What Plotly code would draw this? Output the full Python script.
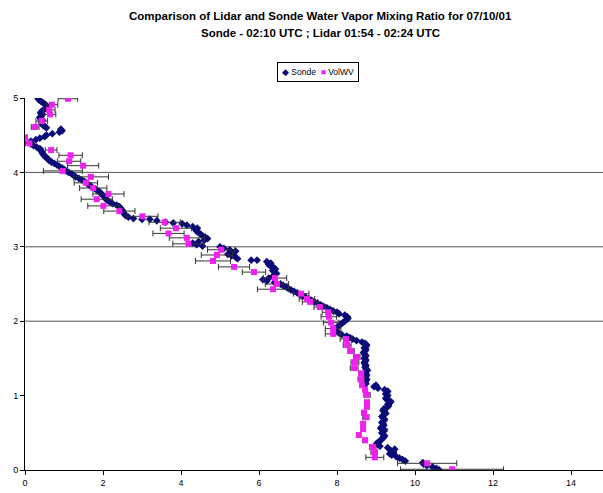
import plotly.graph_objects as go

# ---- Data ----
sonde_alt = [
    0.00, 0.02, 0.04, 0.06, 0.08, 0.10, 0.12, 0.14, 0.16, 0.18,
    0.20, 0.22, 0.24, 0.26, 0.28, 0.30, 0.32, 0.34, 0.36, 0.38,
    0.40, 0.42, 0.44, 0.46, 0.48, 0.50, 0.52, 0.54, 0.56, 0.58,
    0.60, 0.62, 0.64, 0.66, 0.68, 0.70, 0.72, 0.74, 0.76, 0.78,
    0.80, 0.82, 0.84, 0.86, 0.88, 0.90, 0.92, 0.94, 0.96, 0.98,
    1.00, 1.02, 1.04, 1.06, 1.08, 1.10, 1.12, 1.14, 1.16, 1.18,
    1.20, 1.22, 1.24, 1.26, 1.28, 1.30, 1.32, 1.34, 1.36, 1.38,
    1.40, 1.42, 1.44, 1.46, 1.48, 1.50, 1.52, 1.54, 1.56, 1.58,
    1.60, 1.62, 1.64, 1.66, 1.68, 1.70, 1.72, 1.74, 1.76, 1.78,
    1.80, 1.82, 1.84, 1.86, 1.88, 1.90, 1.92, 1.94, 1.96, 1.98,
    2.00, 2.02, 2.04, 2.06, 2.08, 2.10, 2.12, 2.14, 2.16, 2.18,
    2.20, 2.22, 2.24, 2.26, 2.28, 2.30, 2.32, 2.34, 2.36, 2.38,
    2.40, 2.42, 2.44, 2.46, 2.48, 2.50, 2.52, 2.54, 2.56, 2.58,
    2.60, 2.62, 2.64, 2.66, 2.68, 2.70, 2.72, 2.74, 2.76, 2.78,
    2.80, 2.82, 2.82, 2.84, 2.86, 2.88, 2.90, 2.92, 2.94, 2.96,
    2.98, 3.00, 3.01, 3.03, 3.05, 3.07, 3.09, 3.11, 3.13, 3.15,
    3.17, 3.19, 3.21, 3.23, 3.25, 3.27, 3.29, 3.31, 3.32, 3.33,
    3.35, 3.37, 3.37, 3.38, 3.40, 3.42, 3.44, 3.46, 3.48, 3.50,
    3.52, 3.54, 3.56, 3.58, 3.60, 3.62, 3.64, 3.66, 3.68, 3.70,
    3.72, 3.74, 3.76, 3.78, 3.80, 3.82, 3.84, 3.86, 3.88, 3.90,
    3.92, 3.94, 3.96, 3.98, 4.00, 4.02, 4.04, 4.06, 4.08, 4.10,
    4.12, 4.14, 4.16, 4.18, 4.20, 4.22, 4.24, 4.26, 4.28, 4.30,
    4.32, 4.34, 4.36, 4.38, 4.40, 4.42, 4.44, 4.46, 4.48, 4.50,
    4.52, 4.54, 4.56, 4.58, 4.60, 4.62, 4.64, 4.66, 4.68, 4.70,
    4.72, 4.74, 4.76, 4.78, 4.80, 4.82, 4.84, 4.86, 4.88, 4.90,
    4.92, 4.94, 4.96, 4.98, 5.00,
]
sonde_mr = [
    10.62, 10.55, 10.45, 10.30, 10.22, 10.20, 9.75, 9.68, 9.60, 9.52,
    9.40, 9.35, 9.45, 9.38, 9.48, 9.30, 9.10, 9.05, 9.02, 9.08,
    9.12, 9.15, 9.20, 9.22, 9.18, 9.15, 9.20, 9.22, 9.12, 9.15,
    9.20, 9.18, 9.15, 9.20, 9.22, 9.18, 9.15, 9.20, 9.25, 9.22,
    9.18, 9.20, 9.28, 9.32, 9.30, 9.35, 9.38, 9.30, 9.25, 9.28,
    9.30, 9.25, 9.28, 9.30, 9.22, 9.05, 8.95, 9.00, 8.74, 8.72,
    8.74, 8.76, 8.72, 8.74, 8.76, 8.72, 8.74, 8.78, 8.74, 8.72,
    8.74, 8.72, 8.70, 8.72, 8.74, 8.70, 8.72, 8.74, 8.70, 8.68,
    8.72, 8.74, 8.70, 8.74, 8.76, 8.72, 8.64, 8.50, 8.40, 8.33,
    8.25, 8.12, 8.05, 8.00, 7.96, 7.95, 8.00, 8.05, 8.10, 8.15,
    8.20, 8.25, 8.28, 8.26, 8.20, 8.05, 8.00, 7.90, 7.82, 7.74,
    7.65, 7.58, 7.50, 7.42, 7.35, 7.28, 7.20, 7.12, 7.05, 6.98,
    6.90, 6.82, 6.75, 6.70, 6.62, 6.55, 6.40, 6.20, 6.10, 6.25,
    6.35, 6.40, 6.45, 6.40, 6.35, 6.42, 6.38, 6.30, 6.25, 6.30,
    6.20, 5.95, 5.80, 5.45, 5.40, 5.30, 5.20, 5.35, 5.40, 5.25,
    5.10, 5.00, 4.55, 4.40, 4.30, 4.45, 4.60, 4.68, 4.62, 4.55,
    4.50, 4.45, 4.40, 4.38, 4.42, 4.30, 4.15, 4.03, 3.80, 3.60,
    3.38, 3.20, 3.00, 2.78, 2.65, 2.58, 2.55, 2.52, 2.50, 2.48,
    2.45, 2.42, 2.35, 2.25, 2.18, 2.12, 2.08, 2.05, 2.02, 1.98,
    1.95, 1.90, 1.85, 1.80, 1.72, 1.68, 1.62, 1.58, 1.52, 1.45,
    1.38, 1.30, 1.25, 1.20, 1.12, 1.05, 1.00, 0.95, 0.88, 0.82,
    0.75, 0.68, 0.62, 0.58, 0.55, 0.50, 0.47, 0.45, 0.42, 0.40,
    0.38, 0.30, 0.22, 0.16, 0.12, 0.15, 0.28, 0.38, 0.50, 0.55,
    0.70, 0.88, 0.95, 0.92, 0.55, 0.50, 0.45, 0.43, 0.42, 0.45,
    0.40, 0.38, 0.42, 0.45, 0.40, 0.42, 0.48, 0.52, 0.58, 0.55,
    0.50, 0.45, 0.40, 0.35, 0.33,
]

lidar_alt = [
    0.01, 0.09, 0.17, 0.24, 0.31, 0.40, 0.47, 0.55, 0.62, 0.71,
    0.77, 0.85, 0.91, 1.01, 1.08, 1.14, 1.22, 1.30, 1.37, 1.45,
    1.52, 1.60, 1.68, 1.76, 1.83, 1.90, 1.98, 2.06, 2.12, 2.19,
    2.26, 2.30, 2.37, 2.43, 2.50, 2.58, 2.66, 2.73, 2.81, 2.89,
    2.96, 3.04, 3.12, 3.18, 3.25, 3.33, 3.41, 3.48, 3.55, 3.64,
    3.71, 3.79, 3.86, 3.94, 4.02, 4.09, 4.15, 4.23, 4.30, 4.39,
    4.47, 4.61, 4.69, 4.78, 4.84, 4.91, 4.99,
]
lidar_mr = [
    10.95, 10.31, 8.97, 8.95, 8.92, 8.72, 8.56, 8.67, 8.67, 8.74,
    8.69, 8.77, 8.77, 8.77, 8.72, 8.64, 8.62, 8.62, 8.44, 8.46,
    8.51, 8.36, 8.26, 8.23, 7.90, 7.90, 7.85, 7.79, 7.77, 7.56,
    7.31, 7.23, 7.08, 6.36, 6.46, 6.41, 5.87, 5.36, 4.82, 4.92,
    5.03, 4.19, 4.15, 3.68, 3.87, 3.58, 3.01, 2.42, 2.01, 1.84,
    2.14, 1.75, 1.56, 1.69, 0.97, 1.49, 1.13, 1.17, 0.67, 0.11,
    0.00, 0.26, 0.43, 0.64, 0.62, 0.69, 1.10,
]
lidar_err = [
    1.32, 0.76, 0.23, 0.08, 0.08, 0.05, 0.05, 0.05, 0.05, 0.08,
    0.05, 0.05, 0.06, 0.08, 0.05, 0.05, 0.08, 0.06, 0.10, 0.10,
    0.08, 0.08, 0.10, 0.15, 0.20, 0.20, 0.20, 0.20, 0.15, 0.15,
    0.20, 0.20, 0.20, 0.40, 0.30, 0.30, 0.30, 0.40, 0.45, 0.40,
    0.35, 0.40, 0.45, 0.40, 0.40, 0.40, 0.40, 0.40, 0.40, 0.40,
    0.40, 0.35, 0.30, 0.45, 0.50, 0.40, 0.30, 0.30, 0.15, 0.10,
    0.05, 0.10, 0.15, 0.15, 0.15, 0.15, 0.25,
]

x_ticks = [0, 2, 4, 6, 8, 10, 12, 14]
y_ticks = [0, 1, 2, 3, 4, 5]
grid_alts = [2, 3, 4]

title_line1 = "Comparison of Lidar and Sonde Water Vapor Mixing Ratio for 07/10/01"
title_line2 = "Sonde - 02:10 UTC ; Lidar 01:54 - 02:24 UTC"
series_names = ["Sonde", "VolWV"]

FONT = "Liberation Sans, Arial, sans-serif"
SONDE_COLOR = "#0a0a78"
LIDAR_COLOR = "#f020f0"

fig = go.Figure()
fig.add_trace(go.Scatter(
    x=sonde_mr, y=sonde_alt, mode="markers", name=series_names[0],
    marker=dict(symbol="diamond", size=6, color=SONDE_COLOR),
))
fig.add_trace(go.Scatter(
    x=lidar_mr, y=lidar_alt, mode="markers", name=series_names[1],
    marker=dict(symbol="square", size=6, color=LIDAR_COLOR),
    error_x=dict(type="data", array=lidar_err, visible=True,
                 color="#333333", thickness=1, width=3),
))

for g in grid_alts:
    fig.add_shape(type="line", xref="paper", x0=0, x1=1, yref="y", y0=g, y1=g,
                  line=dict(color="#555555", width=1), layer="below")

# Title lines (paper top is at 98 px, paper height 372 px)
fig.add_annotation(text=f"<b>{title_line1}</b>", xref="paper", yref="paper",
                   x=(320 - 25) / 578, y=1 + (98 - 16) / 372,
                   xanchor="center", yanchor="middle", showarrow=False,
                   font=dict(family=FONT, size=11.5, color="black"))
fig.add_annotation(text=f"<b>{title_line2}</b>", xref="paper", yref="paper",
                   x=(320 - 25) / 578, y=1 + (98 - 33) / 372,
                   xanchor="center", yanchor="middle", showarrow=False,
                   font=dict(family=FONT, size=11.5, color="black"))

# Compact boxed legend
legend_text = (f"<span style='color:{SONDE_COLOR}'>◆</span> {series_names[0]}  "
               f"<span style='color:{LIDAR_COLOR}'>■</span> {series_names[1]}")
fig.add_annotation(text=legend_text, xref="paper", yref="paper",
                   x=(318 - 25) / 578, y=1 + (98 - 72) / 372,
                   xanchor="center", yanchor="middle", showarrow=False,
                   bordercolor="black", borderwidth=1, borderpad=4,
                   bgcolor="white",
                   font=dict(family=FONT, size=8.5, color="black"))

fig.update_layout(
    width=603, height=493,
    margin=dict(l=25, r=0, t=98, b=23),
    paper_bgcolor="white", plot_bgcolor="white",
    font=dict(family=FONT, size=9, color="black"),
    showlegend=False,
    xaxis=dict(
        range=[0, 14.82], tickvals=x_ticks, ticktext=[str(v) for v in x_ticks],
        showgrid=False, zeroline=False, showline=True, linecolor="black",
        linewidth=1, ticks="outside", ticklen=4, tickcolor="black",
        tickfont=dict(size=9),
    ),
    yaxis=dict(
        range=[0, 5], tickvals=y_ticks, ticktext=[str(v) for v in y_ticks],
        showgrid=False, zeroline=False, showline=True, linecolor="black",
        linewidth=1, ticks="outside", ticklen=4, tickcolor="black",
        tickfont=dict(size=9),
    ),
)

fig.write_html("out.html")
